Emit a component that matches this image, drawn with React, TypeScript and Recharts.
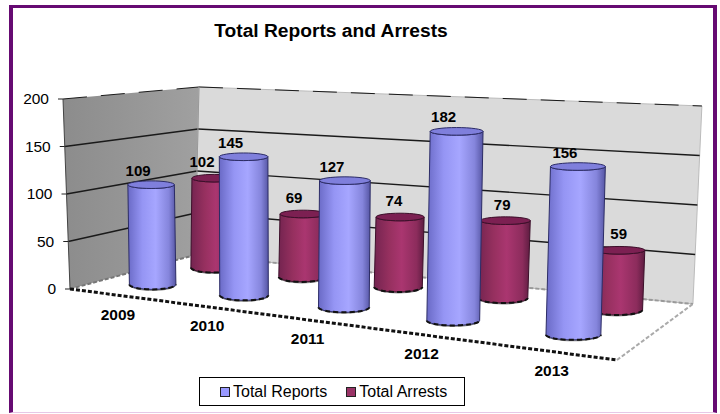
import React from 'react'
import { BarChart, Bar, XAxis, YAxis, Legend, LabelList, Customized } from 'recharts'

const categories = ['2009', '2010', '2011', '2012', '2013']
const totalReports = [109, 145, 127, 182, 156]
const totalArrests = [102, 69, 74, 79, 59]
const yTicks = [0, 50, 100, 150, 200]

const chartData = categories.map((year, i) => ({
  year,
  reports: totalReports[i],
  arrests: totalArrests[i],
}))

const FONT = '"Liberation Sans", Arial, sans-serif'
const BAR_SIZE = 60
const PLOT = { x: 60, y: 20, w: 640, h: 354 }
const FRONT_ROW = 0.27
const BACK_ROW = 0.75

const TONES = {
  reports: { fill: 'url(#reportsSide)', top: '#7f7fdc', edge: '#2c2c66', swatch: '#9999ff' },
  arrests: { fill: 'url(#arrestsSide)', top: '#7c2052', edge: '#3c0f2a', swatch: '#993366' },
}

const mix = (a: number, b: number, t: number) => a + (b - a) * t
const bilinear = (c00: number, c10: number, c01: number, c11: number, u: number, v: number) =>
  mix(mix(c00, c10, u), mix(c01, c11, u), v)

// wall height in px for a spot on the floor (u along the years, v into the depth)
const wallHeight = (u: number, v: number) =>
  bilinear(181, 228, 168, 198, u, v) + 9 * (1 - u) ** 6 * (1 - v) ** 6

// 3D view: unit floor square to screen, height in 0..1 lifted along a slightly leaning vertical
function project(u: number, v: number, h: number) {
  const w = -0.2706 * u + 0.1397 * v + 1
  const fx = (380 * u + 152.2 * v + 70) / w
  const fy = (-26.4 * u + 1.6 * v + 289) / w
  return {
    x: fx + bilinear(-7, 6, 4, 9, u, v) * h,
    y: fy - wallHeight(u, v) * h,
  }
}

const plotU = (x: number) => (x - PLOT.x) / PLOT.w
const plotH = (y: number) => (PLOT.y + PLOT.h - y) / PLOT.h

// columns sit a little to the right of their slot, more so in the middle of the floor
const columnU = (x: number, depth: number) => {
  const u = plotU(x)
  const rowShift = depth === BACK_ROW ? 0.012 : 0.007
  return u + rowShift + 0.015 * 4 * u * (1 - u) - 0.01 * u * u
}

const poly = (pts: { x: number; y: number }[]) => pts.map((p) => `${p.x},${p.y}`).join(' ')

function Room() {
  const floor = [project(0, 0, 0), project(1, 0, 0), project(1, 1, 0), project(0, 1, 0)]
  const leftWall = [project(0, 0, 0), project(0, 1, 0), project(0, 1, 1), project(0, 0, 1)]
  const backWall = [project(0, 1, 0), project(1, 1, 0), project(1, 1, 1), project(0, 1, 1)]
  const seg = (a: { x: number; y: number }, b: { x: number; y: number }) => ({
    x1: a.x,
    y1: a.y,
    x2: b.x,
    y2: b.y,
  })
  return (
    <g>
      <text x={331} y={37} textAnchor="middle" fontFamily={FONT} fontWeight="bold" fontSize={19.2} fill="#000">
        Total Reports and Arrests
      </text>
      <polygon points={poly(floor)} fill="#fff" />
      <polygon points={poly(leftWall)} fill="url(#leftWallFill)" />
      <polygon points={poly(backWall)} fill="#dadada" stroke="#bbb" strokeWidth={1} />
      {yTicks.slice(1).map((t) => {
        const h = t / 200
        const dark = t === 200
        return (
          <g key={t} stroke="#1a1a1a" strokeWidth={dark ? 1 : 1.4} strokeDasharray={dark ? '24 14' : undefined}>
            <line {...seg(project(0, 0, h), project(0, 1, h))} />
            <line {...seg(project(0, 1, h), project(1, 1, h))} />
          </g>
        )
      })}
      <line {...seg(project(0, 0, 0), project(0, 0, 1))} stroke="#444" strokeWidth={1} />
      <line {...seg(project(0, 1, 0), project(0, 1, 1))} stroke="#999" strokeWidth={1} />
      <g fill="none" strokeDasharray="4 2">
        <line {...seg(project(0, 0, 0), project(0, 1, 0))} stroke="#777" strokeWidth={2} />
        <line {...seg(project(0, 1, 0), project(1, 1, 0))} stroke="#999" strokeWidth={2} />
        <line {...seg(project(1, 0, 0), project(1, 1, 0))} stroke="#aaa" strokeWidth={2} />
        <line {...seg(project(0, 0, 0), project(1, 0, 0))} stroke="#111" strokeWidth={3} />
      </g>
    </g>
  )
}

function Cylinder(props: any) {
  const { x, y, width, depth, tone } = props
  const u = columnU(x + width / 2, depth)
  const base = project(u, depth, 0)
  const top = project(u, depth, plotH(y))
  const rx = (width / 2) * (wallHeight(u, depth) / 236)
  const ryTop = 3.8
  const ryBase = 5
  const look = TONES[tone as keyof typeof TONES]
  return (
    <g>
      <ellipse cx={base.x} cy={base.y + 0.5} rx={rx} ry={ryBase + 1} fill="#8a8a8a" />
      <path
        d={`M${top.x - rx},${top.y} L${base.x - rx},${base.y} A${rx},${ryBase} 0 0 0 ${base.x + rx},${base.y} L${top.x + rx},${top.y} A${rx},${ryTop} 0 0 1 ${top.x - rx},${top.y} Z`}
        fill={look.fill}
        stroke={look.edge}
        strokeWidth={1}
      />
      <path
        d={`M${base.x - rx},${base.y} A${rx},${ryBase} 0 0 0 ${base.x + rx},${base.y}`}
        fill="none"
        stroke="#111"
        strokeWidth={2}
        strokeDasharray="5 3"
      />
      <ellipse cx={top.x} cy={top.y} rx={rx} ry={ryTop} fill={look.top} stroke={look.edge} strokeWidth={1} />
    </g>
  )
}

function ValueLabel(props: any) {
  const { x, y, width, value, depth } = props
  const u = columnU(x + width / 2, depth)
  const top = project(u, depth, plotH(y))
  const back = depth === BACK_ROW
  return (
    <text
      x={top.x + (back ? -14 + 15 * u : -13)}
      y={top.y + (back ? -11 : -9)}
      textAnchor="middle"
      fontFamily={FONT}
      fontWeight="bold"
      fontSize={15}
      fill="#000"
    >
      {value}
    </text>
  )
}

function YearTick(props: any) {
  const { x, payload } = props
  const p = project(plotU(x), 0, 0)
  return (
    <text x={p.x + 7} y={p.y + 25.5} textAnchor="middle" fontFamily={FONT} fontWeight="bold" fontSize={15.5} fill="#000">
      {payload.value}
    </text>
  )
}

function ValueTick(props: any) {
  const { y, payload } = props
  const p = project(0, 0, plotH(y))
  return (
    <g>
      <line x1={p.x - 5} y1={p.y} x2={p.x} y2={p.y} stroke="#222" />
      <text x={p.x - 14} y={p.y + 5} textAnchor="end" fontFamily={FONT} fontSize={15.5} fill="#000">
        {payload.value}
      </text>
    </g>
  )
}

function LegendBox() {
  const items = [
    { label: 'Total Reports', color: TONES.reports.swatch },
    { label: 'Total Arrests', color: TONES.arrests.swatch },
  ]
  return (
    <div
      style={{
        boxSizing: 'border-box',
        width: 266,
        height: 29,
        border: '1px solid #000',
        background: '#fff',
        display: 'flex',
        alignItems: 'center',
        paddingLeft: 20,
        fontFamily: FONT,
        fontSize: 16,
        color: '#000',
        whiteSpace: 'nowrap',
      }}
    >
      {items.map((item) => (
        <span key={item.label} style={{ display: 'flex', alignItems: 'center', marginRight: 19, flex: 'none' }}>
          <span
            style={{
              width: 8,
              height: 8,
              background: item.color,
              border: '1px solid #222',
              marginRight: 3,
            }}
          />
          {item.label}
        </span>
      ))}
    </div>
  )
}

export default function App() {
  return (
    <div style={{ position: 'absolute', left: 0, top: 0, width: 720, height: 414, background: '#fff', overflow: 'hidden' }}>
      <div
        style={{
          position: 'absolute',
          left: 9,
          top: 5,
          width: 708,
          height: 408,
          boxSizing: 'border-box',
          borderStyle: 'solid',
          borderWidth: '3px 4px 1px 4px',
          borderColor: '#660a72 #660a72 #e6c8e6 #660a72',
        }}
      />
      <div style={{ position: 'absolute', left: 0, top: 0 }}>
        <BarChart
          width={720}
          height={414}
          data={chartData}
          margin={{ top: 20, right: 20, bottom: 0, left: 0 }}
          barSize={BAR_SIZE}
          barGap={-BAR_SIZE}
          barCategoryGap={0}
        >
          <defs>
            <linearGradient id="reportsSide" x1="0" y1="0" x2="1" y2="0">
              <stop offset="0" stopColor="#6a6ac6" />
              <stop offset="0.3" stopColor="#9595f4" />
              <stop offset="0.58" stopColor="#a6a6ff" />
              <stop offset="0.85" stopColor="#8585dc" />
              <stop offset="1" stopColor="#5656a4" />
            </linearGradient>
            <linearGradient id="arrestsSide" x1="0" y1="0" x2="1" y2="0">
              <stop offset="0" stopColor="#742450" />
              <stop offset="0.3" stopColor="#96305f" />
              <stop offset="0.55" stopColor="#aa3670" />
              <stop offset="0.85" stopColor="#8c2c5c" />
              <stop offset="1" stopColor="#5c1c40" />
            </linearGradient>
            <linearGradient id="leftWallFill" x1="0" y1="0" x2="1" y2="0">
              <stop offset="0" stopColor="#8c8c8c" />
              <stop offset="1" stopColor="#a0a0a0" />
            </linearGradient>
          </defs>
          <Customized component={Room} />
          <XAxis dataKey="year" height={40} axisLine={false} tickLine={false} tick={<YearTick />} interval={0} />
          <YAxis width={60} domain={[0, 200]} ticks={yTicks} axisLine={false} tickLine={false} tick={<ValueTick />} />
          <Legend
            layout="horizontal"
            verticalAlign="middle"
            align="center"
            content={<LegendBox />}
            wrapperStyle={{ left: 199, top: 377, width: 266, height: 29 }}
          />
          <Bar
            dataKey="arrests"
            name="Total Arrests"
            isAnimationActive={false}
            shape={(p: any) => <Cylinder {...p} depth={BACK_ROW} tone="arrests" />}
          >
            <LabelList dataKey="arrests" content={(p: any) => <ValueLabel {...p} depth={BACK_ROW} />} />
          </Bar>
          <Bar
            dataKey="reports"
            name="Total Reports"
            isAnimationActive={false}
            shape={(p: any) => <Cylinder {...p} depth={FRONT_ROW} tone="reports" />}
          >
            <LabelList dataKey="reports" content={(p: any) => <ValueLabel {...p} depth={FRONT_ROW} />} />
          </Bar>
        </BarChart>
      </div>
    </div>
  )
}
